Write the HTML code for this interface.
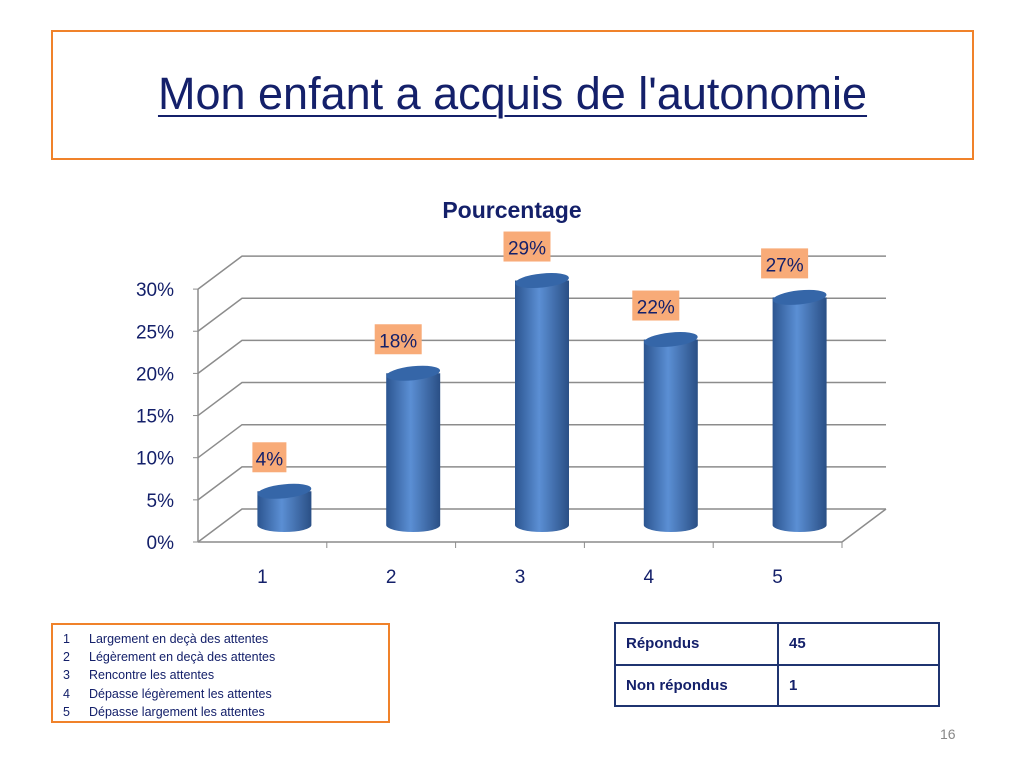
<!DOCTYPE html>
<html><head><meta charset="utf-8"><style>
body{margin:0;width:1024px;height:768px;background:#fff;position:relative;overflow:hidden;font-family:"Liberation Sans",sans-serif}
.abs{position:absolute}
</style></head><body>
<div class="abs" style="left:51px;top:30px;width:919px;height:126px;border:2px solid #f0822a"></div>
<div class="abs" style="left:51px;top:68px;width:923px;text-align:center;font-size:45px;color:#14206a;text-decoration:underline;text-decoration-thickness:2px;text-underline-offset:6px">Mon enfant a acquis de l'autonomie</div>
<svg class="abs" style="left:0;top:0" width="1024" height="610" id="chart">
<defs><linearGradient id="cyl" x1="0" x2="1"><stop offset="0" stop-color="#2c5590"/><stop offset="0.45" stop-color="#5b8fd4"/><stop offset="1" stop-color="#2a4f85"/></linearGradient></defs>
<text x="512" y="218" text-anchor="middle" font-size="23" font-weight="bold" fill="#14206a">Pourcentage</text>
<g id="grid"></g><g id="bars"></g>
</svg>
<div class="abs" style="left:51px;top:623px;width:339px;height:100px;border:2px solid #f0822a;font-size:12.5px;color:#14206a;line-height:18.2px;padding-top:5px;box-sizing:border-box">
<div style="padding-left:10px"><span style="display:inline-block;width:26px">1</span>Largement en deçà des attentes</div>
<div style="padding-left:10px"><span style="display:inline-block;width:26px">2</span>Légèrement en deçà des attentes</div>
<div style="padding-left:10px"><span style="display:inline-block;width:26px">3</span>Rencontre les attentes</div>
<div style="padding-left:10px"><span style="display:inline-block;width:26px">4</span>Dépasse légèrement les attentes</div>
<div style="padding-left:10px"><span style="display:inline-block;width:26px">5</span>Dépasse largement les attentes</div>
</div>
<table class="abs" style="left:614px;top:622px;width:326px;height:85px;border-collapse:collapse;font-size:15px;font-weight:bold;color:#14206a">
<tr><td style="border:2px solid #1f3470;width:150px;padding-left:10px">Répondus</td><td style="border:2px solid #1f3470;padding-left:10px">45</td></tr>
<tr><td style="border:2px solid #1f3470;padding-left:10px">Non répondus</td><td style="border:2px solid #1f3470;padding-left:10px">1</td></tr>
</table>
<div class="abs" style="left:940px;top:726px;font-size:14px;color:#888">16</div>
<script>
const categories=["1","2","3","4","5"];
const values=[4,18,29,22,27];
const yTicks=[0,5,10,15,20,25,30];
const NS="http://www.w3.org/2000/svg";
const x0=198,y0=542,ppu=8.43,dx=44,dy=-33,plotW=644,step=128.8;
const yS=v=>y0-v*ppu;
const xS=i=>x0+step*(i+0.5);
const grid=document.getElementById('grid'),bars=document.getElementById('bars');
function mk(t,a,p){const e=document.createElementNS(NS,t);for(const k in a)e.setAttribute(k,a[k]);p.appendChild(e);return e;}
yTicks.forEach(v=>{
 const y=yS(v);
 const l=mk('polyline',{points:`${x0},${y} ${x0+dx},${y+dy} ${x0+dx+plotW},${y+dy}`,fill:'none',stroke:'#8c8c8c','stroke-width':1.5},grid);
 
 
 mk('line',{x1:x0-5,y1:y,x2:x0,y2:y,stroke:'#8c8c8c'},grid);
 const t=mk('text',{x:x0-24,y:y+7,'text-anchor':'end','font-size':19,fill:'#14206a'},grid);
 t.textContent=v+'%';
 
 
});
mk('polyline',{points:`${x0},${y0} ${x0+plotW},${y0} ${x0+plotW+dx},${y0+dy}`,fill:'none',stroke:'#8c8c8c','stroke-width':1.5},grid);
mk('line',{x1:x0,y1:yS(30),x2:x0,y2:y0,stroke:'#8c8c8c','stroke-width':1.5},grid);
categories.forEach((c,i)=>{
 const xt=x0+step*(i+1);
 mk('line',{x1:xt,y1:y0,x2:xt,y2:y0+6,stroke:'#8c8c8c'},grid);
 const t=mk('text',{x:xS(i),y:y0+41,'text-anchor':'middle','font-size':19,fill:'#14206a'},grid);
 t.textContent=c;
 
 
});
values.forEach((v,i)=>{
 const cx=xS(i)+22,base=525,top=base-v*ppu,rw=27,ry=7;
 const g=mk('g',{},bars);
 
 
 mk('path',{d:`M${cx-rw},${top} L${cx-rw},${base} A${rw},${ry} 0 0 0 ${cx+rw},${base} L${cx+rw},${top} Z`,fill:'url(#cyl)'},g);
 mk('ellipse',{cx:cx,cy:top,rx:rw,ry:ry,fill:'#3566a8',transform:`rotate(-6 ${cx} ${top})`},g);
 const bw=(String(v).length+1)*13+8;
 const lx=xS(i)+7,ly=top-33;
 const r=mk('rect',{x:lx-bw/2,y:ly-16,width:bw,height:30,fill:'#f8ab78'},g);
 
 
 const t=mk('text',{x:lx,y:ly+7,'text-anchor':'middle','font-size':19,fill:'#14206a'},g);
 t.textContent=v+'%';
 
 
});
</script>
</body></html>
